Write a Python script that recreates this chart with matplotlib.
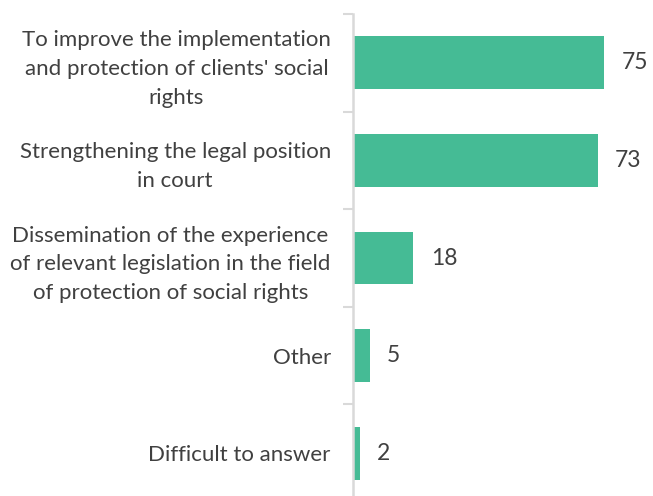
import matplotlib
matplotlib.use("Agg")
import matplotlib.pyplot as plt
import numpy as np

categories = [
    "To improve the implementation\nand protection of clients' social\nrights",
    "Strengthening the legal position\nin court",
    "Dissemination of the experience\nof relevant legislation in the field\nof protection of social rights",
    "Other",
    "Difficult to answer",
]
values = [75, 73, 18, 5, 2]

bar_color = "#45BB95"
text_color = "#404040"
axis_color = "#D9D9D9"

plt.rcParams['font.family'] = ['Lato', 'DejaVu Sans']

fig = plt.figure(figsize=(6.53, 4.96), dpi=100)
W, H = 653, 496
px_per_unit = 3.35
xmax = 80
left, top, bottom = 353, 14, 502
ax = fig.add_axes([left / W, 1 - bottom / H, xmax * px_per_unit / W, (bottom - top) / H])

n = len(values)
pos = np.arange(n)
ax.barh(pos, values, height=0.54, color=bar_color, zorder=2)
ax.set_xlim(0, xmax)
ax.set_ylim(n - 0.5, -0.5)

for p, v in zip(pos, values):
    ax.text(v + 5.2, p, str(v), va='center', ha='left', fontsize=16.5, color=text_color)

# boundary ticks on the axis line
ax.set_yticks(np.arange(n + 1) - 0.5)
ax.set_yticklabels([])
ax.tick_params(axis='y', which='major', length=7, width=1.5, color=axis_color)
ax.set_yticks(pos, minor=True)
ax.set_yticklabels(categories, minor=True, fontsize=16, color=text_color,
                   multialignment='center', linespacing=1.55)
ax.tick_params(axis='y', which='minor', length=0, pad=16)

ax.set_xticks([])
for s in ['top', 'right', 'bottom']:
    ax.spines[s].set_visible(False)
ax.spines['left'].set_color(axis_color)
ax.spines['left'].set_linewidth(1.8)
ax.spines['left'].set_zorder(3)

fig.savefig("out.png", dpi=100)
